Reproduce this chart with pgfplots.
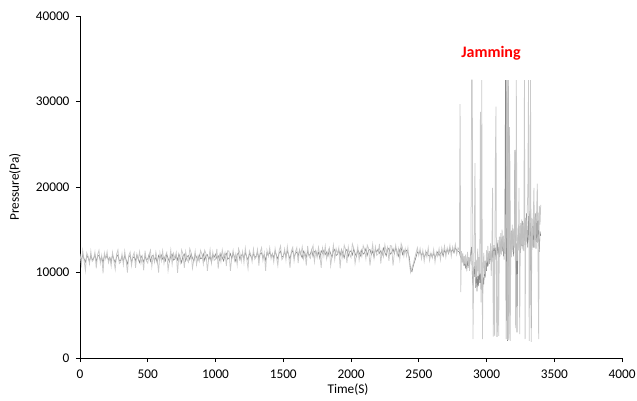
\documentclass[border=0pt]{standalone}
\usepackage{pgfplots}
\usepackage{pgfplotstable}
\pgfplotsset{compat=1.18}
\usepackage{fontspec}
\setmainfont{Carlito}
\definecolor{lightser}{RGB}{196,196,196}
\definecolor{darkser}{RGB}{135,135,135}
\pgfplotstableread{
t a b
0 12200 11900
10 10900 11400
20 12600 12100
30 11400 11600
40 10200 11200
50 12300 12000
60 11900 11700
70 11000 11300
80 12500 12000
90 11300 11500
100 11500 11600
110 12400 12100
120 10500 11300
130 12100 11900
140 12600 12000
150 11100 11400
160 12000 11800
170 9900 11100
180 12300 12000
190 11600 11700
200 12450 11950
210 11150 11450
220 11750 11750
230 10750 11250
240 12350 12050
250 11350 11550
260 10350 11150
270 12150 11850
280 12650 12050
290 11050 11350
300 11200 11400
310 12200 11900
320 10900 11300
330 12500 12000
340 11400 11500
350 10000 11000
360 12000 11800
370 12400 12000
380 10800 11200
390 11900 11700
400 12350 11850
410 10550 11350
420 12150 12050
430 11550 11550
440 12450 11150
450 11050 11950
460 11850 11650
470 10250 11250
480 12550 11950
490 11350 11450
500 11100 11600
510 12100 12100
520 12600 11300
530 10700 11900
540 12000 12000
550 11200 11400
560 12400 11800
570 11500 11100
580 10000 12000
590 12300 11700
600 11350 12050
610 12550 11550
620 11050 11850
630 11950 11350
640 12350 12150
650 10250 11650
660 11450 11250
670 12650 11950
680 10950 12150
690 12250 11450
700 11650 11550
710 12350 12050
720 9950 11450
730 12050 12150
740 11150 11650
750 12650 11150
760 12150 11950
770 10550 12150
780 12450 11350
790 11550 11850
800 11200 12000
810 12800 11500
820 12300 12200
830 10500 11700
840 11500 11300
850 12500 12100
860 10900 11800
870 11900 11400
880 11300 12100
890 12600 11600
900 12100 11700
910 11000 12200
920 12600 11400
930 12200 12000
940 10200 12100
950 11600 11500
960 12700 11900
970 11100 11200
980 12400 12100
990 11400 11800
1000 11550 12150
1010 12750 11650
1020 10450 11950
1030 12050 11450
1040 11250 12250
1050 12650 11750
1060 11750 11350
1070 12350 12050
1080 10750 12250
1090 12550 11550
1100 12500 11700
1110 10200 12200
1120 11700 11600
1130 12600 12300
1140 11400 11800
1150 12200 11300
1160 10900 12100
1170 12800 12300
1180 12300 11500
1190 11300 12000
1200 12450 12150
1210 11150 11650
1220 12850 12350
1230 11650 11850
1240 10450 11450
1250 12550 12250
1260 12150 11950
1270 11250 11550
1280 12750 12250
1290 11550 11750
1300 11800 11900
1310 12700 12400
1320 10800 11600
1330 12400 12200
1340 12900 12300
1350 11400 11700
1360 12300 12100
1370 10200 11400
1380 12600 12300
1390 11900 12000
1400 12900 12400
1410 11600 11900
1420 12200 12200
1430 11200 11700
1440 12800 12500
1450 11800 12000
1460 10800 11600
1470 12600 12300
1480 13100 12500
1490 11500 11800
1500 11750 11950
1510 12750 12450
1520 11450 11850
1530 13050 12550
1540 11950 12050
1550 10550 11550
1560 12550 12350
1570 12950 12550
1580 11350 11750
1590 12450 12250
1600 12900 12400
1610 11100 11900
1620 12700 12600
1630 12100 12100
1640 13000 11700
1650 11600 12500
1660 12400 12200
1670 10800 11800
1680 13100 12500
1690 11900 12000
1700 11650 12150
1710 12650 12650
1720 13150 11850
1730 11250 12450
1740 12550 12550
1750 11750 11950
1760 12950 12350
1770 12050 11650
1780 10550 12550
1790 12850 12250
1800 11900 12600
1810 13100 12100
1820 11600 12400
1830 12500 11900
1840 12900 12700
1850 10800 12200
1860 12000 11800
1870 13200 12500
1880 11500 12700
1890 12800 12000
1900 12200 12100
1910 12900 12600
1920 10500 12000
1930 12600 12700
1940 11700 12200
1950 13200 11700
1960 12700 12500
1970 11100 12700
1980 13000 11900
1990 12100 12400
2000 11750 12550
2010 13350 12050
2020 12850 12750
2030 11050 12250
2040 12050 11850
2050 13050 12650
2060 11450 12350
2070 12450 11950
2080 11850 12650
2090 13150 12150
2100 12700 12300
2110 11600 12800
2120 13200 12000
2130 12800 12600
2140 10800 12700
2150 12200 12100
2160 13300 12500
2170 11700 11800
2180 13000 12700
2190 12000 12400
2200 12150 12750
2210 13350 12250
2220 11050 12550
2230 12650 12050
2240 11850 12850
2250 13250 12350
2260 12350 11950
2270 12950 12650
2280 11350 12850
2290 13150 12150
2300 13100 12300
2310 10800 12800
2320 12300 12200
2330 13200 12900
2340 12000 12400
2350 12800 11900
2360 11500 12700
2370 13400 12900
2380 12900 12100
2390 11900 12600
2400 12800 12400
2410 11900 12600
2420 12900 12300
2430 11200 11800
2440 10000 10300
2450 10600 10100
2460 11000 10800
2470 11700 11300
2480 12300 11800
2490 12900 12400
2500 12000 12200
2510 12800 12500
2520 11600 12000
2530 12600 12300
2540 11300 11800
2550 12500 12100
2560 11800 12400
2570 12900 12000
2580 11400 11900
2590 12300 12200
2600 11700 11800
2610 12700 12300
2620 11200 11700
2630 12400 12100
2640 11900 12400
2650 12800 12000
2660 11500 12200
2670 12900 12500
2680 12200 11900
2690 13100 12600
2700 11800 12300
2710 12900 12700
2720 12300 12200
2730 13200 12800
2740 11900 12400
2750 13000 12700
2760 12400 12300
2770 13300 12900
2780 12100 12600
2790 12900 12500
2800 12600 12400
2805 29700 12000
2810 7700 11800
2815 12500 11600
2820 11200 11900
2825 12300 11300
2830 10800 11500
2835 11900 10900
2840 11000 11200
2845 12100 10600
2850 10500 11000
2855 11600 10400
2860 12400 11300
2865 10900 10800
2870 11800 11500
2875 10200 10900
2880 12000 11700
2885 11300 12500
2890 32500 13000
2895 32500 9800
2900 2200 8500
2905 9000 10500
2910 13500 9500
2915 22800 11200
2920 8500 8200
2925 11500 10800
2930 9500 7800
2935 12800 9600
2940 10200 8400
2945 11800 10200
2950 9800 8800
2955 28800 9900
2960 6500 8000
2965 32500 9200
2970 2200 7600
2975 10500 9400
2980 12300 8600
2985 9800 10800
2990 11400 9400
2995 10100 11300
3000 12600 10200
3005 11200 11800
3010 13100 10700
3015 10800 12200
3020 12500 11000
3025 11600 12500
3030 13400 11600
3035 9600 12300
3040 12800 11200
3045 19900 12800
3050 2500 11700
3055 12500 13200
3060 2600 12000
3065 22800 12900
3070 29400 11500
3075 2500 12200
3080 2500 13500
3085 13800 12100
3090 2600 13000
3095 14200 11800
3100 11900 13600
3105 14600 12400
3110 12100 13900
3115 15000 12500
3120 12800 14200
3125 14300 11900
3130 11500 13500
3135 13900 12200
3140 12200 32500
3145 15300 2200
3150 32500 32500
3155 2100 2000
3160 32500 32500
3165 2300 2100
3170 27000 26000
3175 2000 13500
3180 14800 12000
3185 11800 14900
3190 15600 12700
3195 12400 15200
3200 14900 11900
3205 12900 14400
3210 24100 24300
3215 3500 10500
3220 32500 13400
3225 11500 3000
3230 14100 13100
3235 12600 15400
3240 19900 12900
3245 2800 14600
3250 15500 12300
3255 12800 15800
3260 16200 13100
3265 13200 16000
3270 15800 12600
3275 12500 15400
3280 32500 13700
3285 2200 16400
3290 16400 13200
3295 13600 16900
3300 17100 14100
3305 19500 12900
3310 32500 16600
3315 2000 13800
3320 15800 17200
3325 32500 14400
3330 1900 3500
3335 15200 16400
3340 13100 14200
3345 16300 12900
3350 19900 16100
3355 12900 13800
3360 16500 16900
3365 13600 12800
3370 17200 16300
3375 20400 13500
3380 12000 17000
3385 2200 13900
3390 17800 12400
3395 15600 14800
3400 17900 14300
}\datatable
\begin{document}
\begin{tikzpicture}
\useasboundingbox (0,0) rectangle (637bp,401bp);
\begin{axis}[
  at={(80bp,43bp)}, anchor=south west,
  scale only axis, width=542bp, height=342bp,
  xmin=0, xmax=4000, ymin=0, ymax=40000,
  xtick={0,500,...,4000}, ytick={0,10000,...,40000},
  axis x line*=bottom, axis y line*=left,
  axis line style={-, black, line width=0.8bp},
  tick align=outside, major tick length=4bp,
  tick style={black, line width=0.6bp},
  scaled ticks=false,
  /pgf/number format/1000 sep={},
  /pgf/number format/assume math mode=true,
  tick label style={font=\fontsize{13.3bp}{16bp}\selectfont},
  yticklabel style={xshift=-3bp},
  xticklabel style={yshift=-4bp},
  xlabel={Time(S)}, ylabel={Pressure(Pa)},
  every axis x label/.style={at={(axis description cs:0.4945,-0.0936)}, anchor=center, font=\fontsize{13.3bp}{16bp}\selectfont},
  every axis y label/.style={at={(axis description cs:-0.12,0.5)}, rotate=90, anchor=center, font=\fontsize{13.3bp}{16bp}\selectfont},
  clip=true,
]
\addplot[darkser, line width=0.6bp] table[x=t, y=b] {\datatable};
\addplot[lightser, line width=0.75bp, opacity=0.9] table[x=t, y=a] {\datatable};
\node[text=red, font=\fontsize{16bp}{19bp}\selectfont\bfseries] at (axis cs:3033,35673) {Jamming};
\end{axis}
\end{tikzpicture}
\end{document}
